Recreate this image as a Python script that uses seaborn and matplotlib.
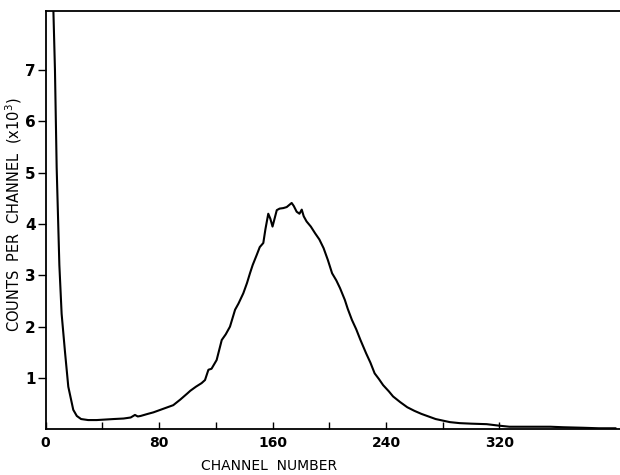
import matplotlib
matplotlib.use("Agg")
import matplotlib.pyplot as plt
import seaborn as sns
import pandas as pd

channel = [4.5, 6.6, 7.8, 9.7, 11.3, 13.7, 16, 19.5, 22, 25, 30, 36, 42, 48, 55, 60, 63, 65,
           67, 72, 76, 80, 85, 90, 95, 100, 102, 106, 110, 112.4, 114.8, 117, 120.6, 124.2,
           127, 130, 133.6, 136, 139.4, 142, 144.1, 146, 148.9, 151, 153.5, 155, 157, 158.5,
           160, 163, 165, 167.6, 170, 173.5, 175, 177, 179, 180.6, 182, 184, 187, 190, 193,
           196, 199, 202, 205, 207.6, 211, 213, 216, 219, 222, 226, 229, 232, 235, 238, 242,
           245, 250, 255, 260, 265, 270, 275, 280, 285, 292, 300, 311, 320, 327, 340, 356,
           365, 379, 390, 402]
counts = [9.2, 7.0, 5.1, 3.2, 2.25, 1.5, 0.83, 0.38, 0.26, 0.2, 0.18, 0.18, 0.19, 0.2, 0.21,
          0.23, 0.28, 0.25, 0.26, 0.3, 0.33, 0.37, 0.42, 0.47, 0.58, 0.7, 0.75, 0.83, 0.9,
          0.96, 1.16, 1.18, 1.35, 1.74, 1.85, 2.0, 2.33, 2.45, 2.65, 2.85, 3.04, 3.2, 3.40,
          3.55, 3.63, 3.9, 4.2, 4.1, 3.95, 4.27, 4.3, 4.31, 4.33, 4.41, 4.35, 4.24, 4.2, 4.28,
          4.15, 4.05, 3.95, 3.82, 3.7, 3.53, 3.3, 3.04, 2.9, 2.75, 2.52, 2.35, 2.13, 1.95,
          1.74, 1.48, 1.3, 1.09, 0.98, 0.86, 0.74, 0.64, 0.53, 0.43, 0.36, 0.3, 0.25, 0.2,
          0.17, 0.14, 0.12, 0.11, 0.1, 0.07, 0.05, 0.05, 0.05, 0.04, 0.03, 0.02, 0.02]

x_major = [0, 80, 160, 240, 320]
x_minor = [40, 120, 200, 280]
y_ticks = [1, 2, 3, 4, 5, 6, 7]

sns.set_theme(style="white")
plt.rcParams["font.family"] = ["DejaVu Sans"]

df = pd.DataFrame({"channel": channel, "counts": counts})

fig = plt.figure(figsize=(6.2, 4.75), dpi=100)
ax = fig.add_axes([45.6 / 620, 1 - 429.3 / 475, 1 - 45.6 / 620, (429.3 - 11) / 475])
sns.lineplot(data=df, x="channel", y="counts", ax=ax, color="black", linewidth=1.5)

ax.set_xlim(0, 405)
ax.set_ylim(0, 8.15)
ax.set_xticks(x_major)
ax.set_xticklabels([str(v) for v in x_major], fontsize=10, fontweight="bold", color="black")
ax.set_xticks(x_minor, minor=True)
ax.set_yticks(y_ticks)
ax.set_yticklabels([str(v) for v in y_ticks], fontsize=11, fontweight="bold", color="black")

ax.tick_params(axis="x", which="both", direction="in", length=5, width=1, color="black",
               bottom=True, pad=5)
ax.tick_params(axis="y", which="both", direction="out", length=6, width=1, color="black",
               left=True, pad=1)

for side in ["left", "bottom", "top"]:
    ax.spines[side].set_color("black")
    ax.spines[side].set_linewidth(1.3)
ax.spines["right"].set_visible(False)

ax.set_xlabel("CHANNEL  NUMBER", fontsize=10, color="black")
ax.set_ylabel("COUNTS  PER  CHANNEL  (x10$^3$)", fontsize=10.5, color="black")
ax.xaxis.set_label_coords(0.389, -0.072)
ax.yaxis.set_label_coords(-0.038, 0.512)

fig.savefig("out.png", dpi=100)
